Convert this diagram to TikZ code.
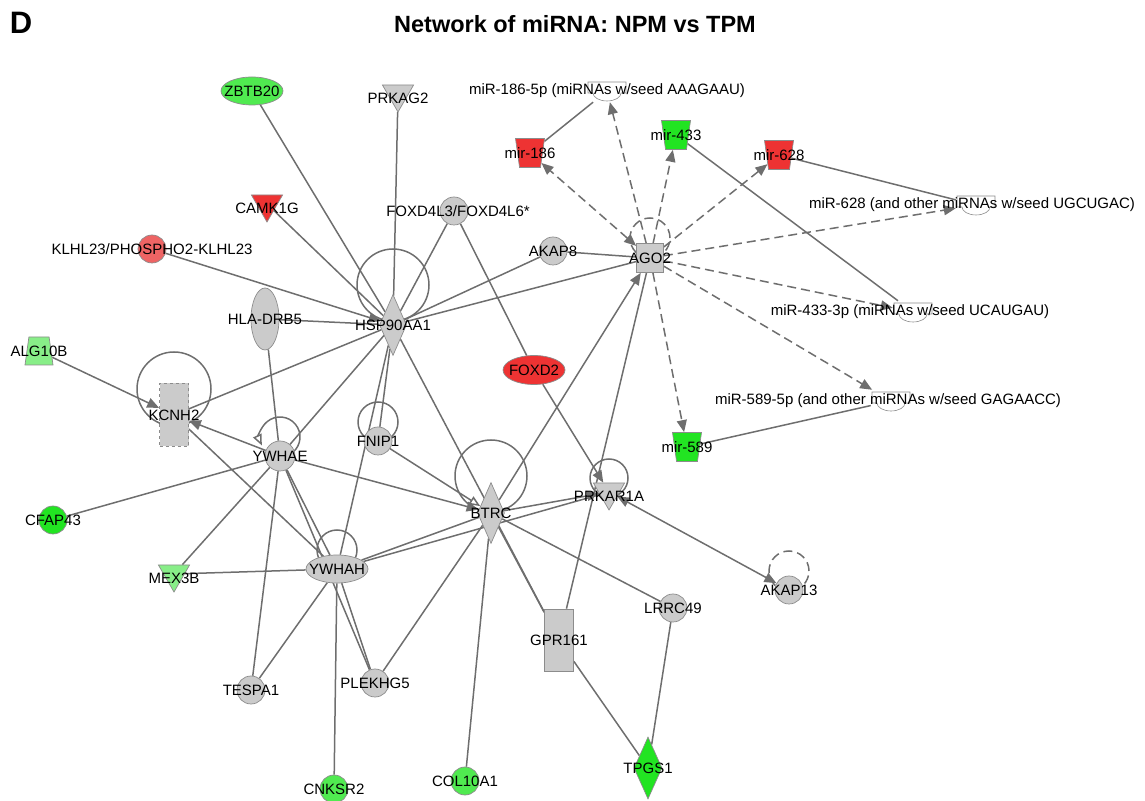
\documentclass[tikz,border=0pt]{standalone}
\usepackage{fontspec}
\setmainfont{Liberation Sans}
\usepackage{tikz}
\usetikzlibrary{shapes, positioning, arrows.meta, calc}
\definecolor{molgray}{HTML}{CBCBCB}
\definecolor{molline}{HTML}{8C8C8C}
\definecolor{linkgray}{HTML}{6E6E6E}
\definecolor{upred}{HTML}{EE3333}
\definecolor{uppink}{HTML}{EE6464}
\definecolor{dngreen}{HTML}{22E422}
\definecolor{midgreen}{HTML}{50EA50}
\definecolor{palegreen}{HTML}{88EE88}
\pgfdeclarelayer{background}
\pgfsetlayers{background,main}
\newcommand{\lblfont}{\fontsize{15}{18}\selectfont}
\tikzset{
mol/.style={draw=molline, line width=0.7pt, fill=molgray, inner sep=0pt},
circ/.style={mol, circle, minimum size=28pt},
oval/.style={mol, ellipse, minimum width=62pt, minimum height=28pt},
ovalv/.style={mol, ellipse, minimum width=28pt, minimum height=62pt},
diam/.style={mol, diamond, minimum width=27pt, minimum height=61pt},
tri/.style={mol, regular polygon, regular polygon sides=3, shape border rotate=180, minimum size=36pt},
slab/.style={mol, rectangle, minimum width=29pt, minimum height=62pt},
trap/.style={mol, trapezium, trapezium left angle=79, trapezium right angle=79, inner sep=1pt,
  trapezium stretches=true, minimum width=29pt, minimum height=29pt},
mirna/.style={trap, shape border rotate=180},
mature/.style={rectangle, minimum width=40pt, minimum height=22pt, inner sep=0pt,
  path picture={\draw[molline, line width=0.6pt, fill=white]
    ([shift={(-19pt,9pt)}]path picture bounding box.center) -- ++(38pt,0pt) -- ++(0pt,-11pt)
    -- ++(-5pt,0pt) arc[start angle=0, end angle=-180, x radius=14pt, y radius=8pt]
    -- ++(-5pt,0pt) -- cycle;}},
every label/.style={font=\lblfont, inner sep=0pt, text=black},
link/.style={draw=linkgray, line width=1.5pt},
act/.style={link, -{Triangle[length=12pt,width=10pt]}},
openact/.style={link, -{Triangle[open,length=11pt,width=9pt]}},
mirlink/.style={link, dash pattern=on 9pt off 5pt, -{Triangle[length=12pt,width=10pt]}},
headline/.style={font=\fontsize{23.5}{28}\selectfont\bfseries},
panel/.style={font=\fontsize{31}{36}\selectfont\bfseries}
}

\begin{document}
\begin{tikzpicture}[x=1pt, y=1pt]
    \useasboundingbox (0,0) rectangle (1145,800);
    \node[headline] (title) at (575,776) {Network of miRNA: NPM vs TPM};
    \node[panel] (tag) at (21,777) {D};

    \node[oval, fill=midgreen, label=center:ZBTB20] (zbtb) at (252,709) {};
    \node[tri, label={[yshift=-4.5pt]center:PRKAG2}] (prkag2) at (398,706) {};
    \node[tri, fill=upred, label={[yshift=-4.5pt]center:CAMK1G}] (camk) at (267,596) {};
    \node[circ, fill=uppink, label=center:KLHL23/PHOSPHO2-KLHL23] (klhl) at (152,551) {};
    \node[circ, label={[xshift=4pt]center:FOXD4L3/FOXD4L6*}] (foxd4) at (454,589) {};
    \node[circ, label=center:AKAP8] (akap8) at (553,549) {};
    \node[mol, rectangle, minimum width=27pt, minimum height=29pt, label=center:AGO2] (ago2) at (650,542) {};
    \node[mirna, fill=upred, label=center:mir-186] (mir186) at (530,647) {};
    \node[mirna, fill=dngreen, label=center:mir-433] (mir433) at (676,665) {};
    \node[mirna, fill=upred, label=center:mir-628] (mir628) at (779,645) {};
    \node[mature, label=center:{miR-186-5p (miRNAs w/seed AAAGAAU)}] (lbl186) at (607,709) {};
    \node[mature, label={[xshift=-4pt]center:{miR-628 (and other miRNAs w/seed UGCUGAC)}}] (lbl628) at (976,595) {};
    \node[mature, label={[xshift=-3pt]center:{miR-433-3p (miRNAs w/seed UCAUGAU)}}] (lbl433) at (913,488) {};
    \node[mature, label={[xshift=-3pt]center:{miR-589-5p (and other miRNAs w/seed GAGAACC)}}] (lbl589) at (891,399) {};
    \node[ovalv, label=center:HLA-DRB5] (hla) at (265,481) {};
    \node[diam, label=center:HSP90AA1] (hsp) at (393,475) {};
    \node[trap, minimum width=28pt, minimum height=28pt, fill=palegreen, label=center:ALG10B] (alg) at (39,449) {};
    \node[slab, dashed, minimum height=63pt, label=center:KCNH2] (kcnh2) at (174,385) {};
    \node[circ, minimum size=30pt, label=center:YWHAE] (ywhae) at (280,344) {};
    \node[circ, label=center:FNIP1] (fnip1) at (378,359) {};
    \node[circ, fill=dngreen, label=center:CFAP43] (cfap) at (53,280) {};
    \node[tri, fill=palegreen, label={[yshift=-4.5pt]center:MEX3B}] (mex3b) at (174,226) {};
    \node[oval, label=center:YWHAH] (ywhah) at (337,231) {};
    \node[diam, label=center:BTRC] (btrc) at (491,287) {};
    \node[tri, label={[yshift=-4.5pt]center:PRKAR1A}] (prkar) at (609,308) {};
    \node[oval, fill=upred, minimum height=29pt, label=center:FOXD2] (foxd2) at (534,430) {};
    \node[mirna, fill=dngreen, label=center:mir-589] (mir589) at (687,353) {};
    \node[slab, label=center:GPR161] (gpr161) at (559,160) {};
    \node[circ, label=center:LRRC49] (lrrc) at (673,192) {};
    \node[circ, label=center:AKAP13] (akap13) at (789,210) {};
    \node[diam, fill=dngreen, minimum width=28pt, minimum height=62pt, label=center:TPGS1] (tpgs) at (648,32) {};
    \node[circ, label=center:TESPA1] (tespa) at (251,110) {};
    \node[circ, label=center:PLEKHG5] (plek) at (375,117) {};
    \node[circ, fill=midgreen, label=center:CNKSR2] (cnksr) at (334,11) {};
    \node[circ, fill=midgreen, label=center:COL10A1] (col10) at (465,19) {};

    \begin{pgfonlayer}{background}
    \draw[link] ([yshift=40pt]hsp.center) circle[radius=36pt];
    \draw[link] ([yshift=26pt]kcnh2.center) circle[radius=37pt];
    \draw[link] ([yshift=19pt]fnip1.center) circle[radius=20pt];
    \draw[link] ([yshift=19pt]ywhah.center) circle[radius=20pt];
    \draw[link] ([yshift=37pt]btrc.center) circle[radius=36pt];
    \draw[link] ([yshift=14pt]prkar.center) circle[radius=19pt];
    \draw[link, dash pattern=on 9pt off 5pt] ([yshift=20pt]ago2.center) circle[radius=20pt];
    \draw[link, dash pattern=on 9pt off 5pt] ([yshift=19pt]akap13.center) circle[radius=20pt];
    \draw[openact] ([yshift=19pt]ywhae.center) ++(-50:20pt) arc[start angle=-50, end angle=205, radius=20pt];

    \draw[link] (zbtb) -- (hsp);
    \draw[link] (prkag2) -- (hsp);
    \draw[link] (camk) -- (hsp);
    \draw[act] (klhl) -- (hsp);
    \draw[link] (foxd4) -- (hsp);
    \draw[link] (akap8) -- (hsp);
    \draw[link] (ago2) -- (hsp);
    \draw[link] (akap8) -- (ago2);
    \draw[link] (hla) -- (hsp);
    \draw[link] (hsp) -- (kcnh2);
    \draw[link] (hsp) -- (ywhae);
    \draw[link] (hsp) -- (fnip1);
    \draw[link] (hsp) -- (ywhah);
    \draw[link] (hsp) -- (gpr161);
    \draw[link] (foxd4) -- (foxd2);
    \draw[act] (foxd2) -- (prkar);
    \draw[act] (alg) -- (kcnh2);
    \draw[act] (ywhae) -- (kcnh2);
    \draw[link] (kcnh2) -- (ywhah);
    \draw[link] (cfap) -- (ywhae);
    \draw[link] (mex3b) -- (ywhae);
    \draw[link] (mex3b) -- (ywhah);
    \draw[link] (hla) -- (ywhae);
    \draw[link] (ywhae) -- (tespa);
    \draw[link] (ywhae) -- (ywhah);
    \draw[link] (ywhae) -- (plek);
    \draw[act] (ywhae) -- (btrc);
    \draw[openact] (fnip1) -- (btrc);
    \draw[link] (ywhah) -- (plek);
    \draw[link] (ywhah) -- (tespa);
    \draw[link] (ywhah) -- (cnksr);
    \draw[link] (ywhah) -- (btrc);
    \draw[link] (ywhah) -- (prkar);
    \draw[act] (btrc) -- (prkar);
    \draw[act] (btrc) -- (ago2);
    \draw[link] (btrc) -- (plek);
    \draw[link] (btrc) -- (col10);
    \draw[link] (btrc) -- (gpr161);
    \draw[link] (btrc) -- (lrrc);
    \draw[link] (lrrc) -- (tpgs);
    \draw[link] (gpr161) -- (tpgs);
    \draw[link] (gpr161) -- (ago2);
    \draw[act, {Triangle[length=12pt,width=10pt]}-{Triangle[length=12pt,width=10pt]}] (prkar) -- (akap13);

    \draw[mirlink, {Triangle[length=12pt,width=10pt]}-{Triangle[length=12pt,width=10pt]}] (ago2) -- (mir186);
    \draw[mirlink] (ago2) -- (lbl186);
    \draw[mirlink] (ago2) -- (mir433);
    \draw[mirlink] (ago2) -- (mir628);
    \draw[mirlink] (ago2) -- (lbl628);
    \draw[mirlink] (ago2) -- (lbl433);
    \draw[mirlink] (ago2) -- (lbl589);
    \draw[mirlink] (ago2) -- (mir589);
    \draw[link] (mir186) -- (lbl186);
    \draw[link] (mir433) -- (lbl433);
    \draw[link] (mir628) -- (lbl628);
    \draw[link] (mir589) -- (lbl589);
    \end{pgfonlayer}
\end{tikzpicture}
\end{document}
